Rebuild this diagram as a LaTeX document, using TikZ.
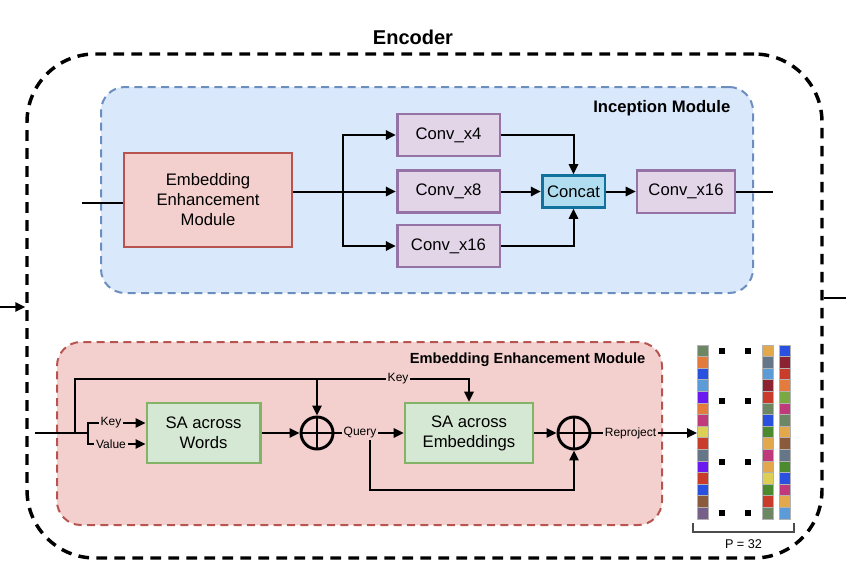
\documentclass[tikz,border=0pt]{standalone}
\usepackage{fontspec}
\setmainfont{Liberation Sans}
\usepackage{xcolor}
\usetikzlibrary{positioning, arrows.meta, calc}

\definecolor{incfill}{HTML}{DAE8FC}
\definecolor{incline}{HTML}{6C8EBF}
\definecolor{eemfill}{HTML}{F3D0CE}
\definecolor{eemline}{HTML}{B85450}
\definecolor{convfill}{HTML}{E1D5E7}
\definecolor{convline}{HTML}{9673A6}
\definecolor{safill}{HTML}{D5E8D4}
\definecolor{saline}{HTML}{82B366}
\definecolor{catfill}{HTML}{B1DDF0}
\definecolor{catline}{HTML}{10739E}
\definecolor{cOlive}{HTML}{6D8764}
\definecolor{cOrange}{HTML}{E37B3C}
\definecolor{cBlue}{HTML}{2A50E0}
\definecolor{cSky}{HTML}{5B9BD8}
\definecolor{cViolet}{HTML}{6A1AF0}
\definecolor{cMagenta}{HTML}{C0397A}
\definecolor{cYellow}{HTML}{DDCF55}
\definecolor{cRed}{HTML}{C93B2B}
\definecolor{cSlate}{HTML}{647687}
\definecolor{cBrown}{HTML}{8A5A3A}
\definecolor{cMauve}{HTML}{76608A}
\definecolor{cAmber}{HTML}{E3A84B}
\definecolor{cWine}{HTML}{8B2332}
\definecolor{cGreen}{HTML}{4C8A30}
\definecolor{cLime}{HTML}{7AA843}

\begin{document}
\begin{tikzpicture}[x=0.75pt, y=-0.75pt, font=\fontsize{12.5}{15}\selectfont,
  container/.style={draw, rounded corners=51pt, dash pattern=on 8pt off 5.5pt, line width=2.6pt},
  module/.style={rounded corners=18pt, dash pattern=on 6pt off 4pt, line width=1.5pt},
  blk/.style={line width=2pt, align=center, inner sep=0pt},
  conv/.style={blk, draw=convline, fill=convfill, minimum width=77pt, minimum height=31.5pt},
  sa/.style={blk, draw=saline, fill=safill, minimum height=45pt},
  oplus/.style={circle, draw, line width=2.2pt, minimum size=24pt, inner sep=0pt,
    path picture={\draw[line width=2.2pt] (path picture bounding box.north) -- (path picture bounding box.south)
      (path picture bounding box.west) -- (path picture bounding box.east);}},
  lbl/.style={fill=eemfill, inner sep=1.5pt, font=\fontsize{9}{11}\selectfont},
  modtitle/.style={font=\bfseries\fontsize{12.5}{15}\selectfont, anchor=east},
  arrow/.style={-{Triangle[length=7.5pt, width=7pt]}, line width=1.5pt},
  wire/.style={line width=1.5pt},
  cell/.style={draw=black!30, line width=0.5pt}
]
\useasboundingbox (0,0) rectangle (846,582);

\node[container, minimum width=596.25pt, minimum height=378pt] (encoder) at (424.5,306) {};
\node[font=\bfseries\fontsize{15}{18}\selectfont] (encTitle) at (413,37) {Encoder};

\node[module, draw=incline, fill=incfill, minimum width=489pt, minimum height=154.5pt] (incMod) at (427,190) {};
\node[modtitle] (incTitle) at (735,108) {Inception Module};

\node[blk, draw=eemline, fill=eemfill, minimum width=126pt, minimum height=70.5pt] (eem) at (208,200) {Embedding\\Enhancement\\Module};
\node[conv] (c4) at (448.5,135) {Conv\_x4};
\node[conv] (c8) at (448.5,191.5) {Conv\_x8};
\node[conv] (c16) at (448.5,246) {Conv\_x16};
\node[blk, draw=catline, fill=catfill, minimum width=47pt, minimum height=24pt] (concat) at (573.5,191.5) {Concat};
\node[conv, minimum width=73.5pt, minimum height=32pt] (cOut) at (686,191.5) {Conv\_x16};

\coordinate (incIn) at (82,203);
\coordinate (split) at (343,191.5);
\coordinate (incOut) at (773,191.5);
\draw[wire] (incIn) -- (incIn -| eem.west);
\draw[arrow] (eem.east |- c8) -- (c8);
\draw[arrow] (split) |- (c4);
\draw[arrow] (split) |- (c16);
\draw[arrow] (c4) -| (concat);
\draw[arrow] (c8) -- (concat);
\draw[arrow] (c16) -| (concat);
\draw[arrow] (concat) -- (cOut);
\draw[wire] (cOut) -- (incOut);

\node[module, draw=eemline, fill=eemfill, minimum width=453.75pt, minimum height=137.25pt] (eemMod) at (359.5,433.5) {};
\node[modtitle, font=\bfseries\fontsize{11}{13}\selectfont] (eemTitle) at (650,360) {Embedding Enhancement Module};
\node[sa, minimum width=85pt] (saw) at (203.5,433) {SA across\\Words};
\node[oplus] (op1) at (317,433) {};
\node[sa, minimum width=96pt] (sae) at (469,433) {SA across\\Embeddings};
\node[oplus] (op2) at (574,433) {};

\coordinate (eemIn) at (35,433);
\coordinate (keyJ) at (75,433);
\coordinate (fork) at (88,433);
\coordinate (keyTop) at (75,379);
\coordinate (qJ) at (370,433);
\coordinate (qLow) at (370,490);
\coordinate (col) at (697,433);

\draw[wire] (eemIn) -- (fork);
\draw[arrow] (fork) |- node[lbl, pos=0.7] (kLbl) {Key} ($(saw.west)+(0,-10)$);
\draw[arrow] (fork) |- node[lbl, pos=0.7] (vLbl) {Value} ($(saw.west)+(0,11)$);
\draw[arrow] (keyJ) -- (keyTop) -| node[lbl, pos=0.41] (ktLbl) {Key} (sae.north);
\draw[arrow] (op1 |- keyTop) -- (op1);
\draw[arrow] (saw) -- (op1);
\draw[arrow] (qJ) -- (qLow) -| (op2);
\draw[arrow] (op1) -- node[lbl, pos=0.37] (qLbl) {Query} (sae);
\draw[arrow] (sae) -- (op2);
\draw[arrow] (op2) -- node[lbl, pos=0.37] (rLbl) {Reproject} (col);

\foreach \c [count=\i from 0] in {cOlive, cOrange, cBlue, cSky, cViolet, cOrange, cMagenta, cYellow, cRed, cSlate, cViolet, cRed, cBlue, cBrown, cMauve}
  \draw[cell, fill=\c] (697,{345+\i*11.6}) rectangle ++(11.5,11.6);
\foreach \c [count=\i from 0] in {cAmber, cSlate, cSky, cWine, cRed, cOlive, cBlue, cGreen, cAmber, cMagenta, cAmber, cYellow, cGreen, cRed, cOlive}
  \draw[cell, fill=\c] (762,{345+\i*11.6}) rectangle ++(11,11.6);
\foreach \c [count=\i from 0] in {cBlue, cWine, cRed, cOrange, cLime, cMagenta, cOlive, cAmber, cBrown, cSlate, cGreen, cBlue, cMagenta, cAmber, cSky}
  \draw[cell, fill=\c] (779,{345+\i*11.6}) rectangle ++(11,11.6);
\foreach \y in {351,401,462,513}
  \foreach \x in {722,748}
    \fill ({\x-3},{\y-3}) rectangle ++(6,6);

\draw[line width=0.8pt, black!70] (693,523) -- (693,532) -- (794,532) -- (794,523);
\node[font=\fontsize{9.5}{11}\selectfont] (pLbl) at (743.5,544) {P = 32};

\coordinate (encIn) at (0,307);
\coordinate (encOut) at (846,298);
\draw[arrow] (encIn) -- (encIn -| encoder.west);
\draw[wire] (encoder.east |- encOut) -- (encOut);
\end{tikzpicture}
\end{document}
